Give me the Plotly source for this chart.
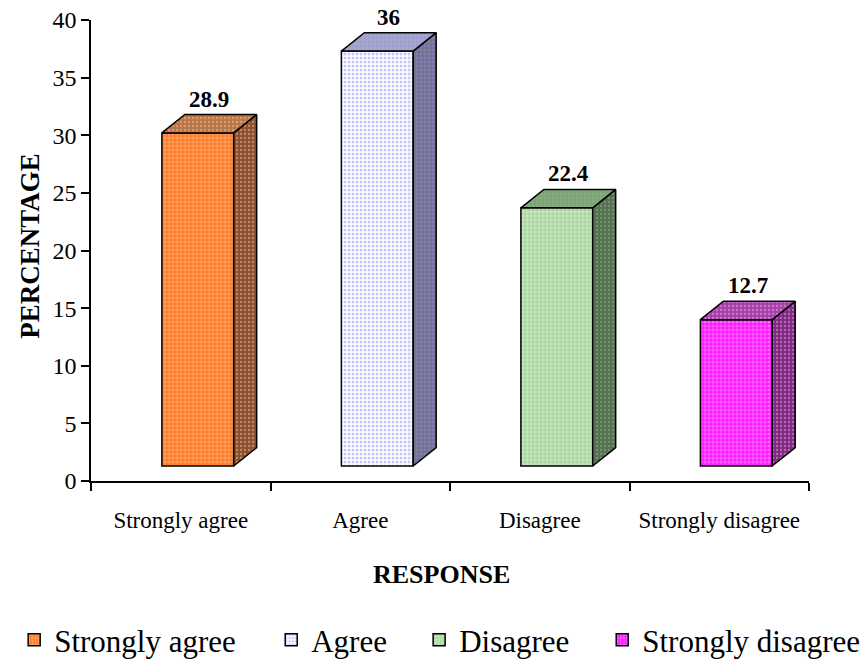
import plotly.graph_objects as go

# Survey responses (percentage of respondents)
categories = ["Strongly agree", "Agree", "Disagree", "Strongly disagree"]
values = [28.9, 36, 22.4, 12.7]
value_labels = ["28.9", "36", "22.4", "12.7"]
y_ticks = [0, 5, 10, 15, 20, 25, 30, 35, 40]

# face colours: (front background, front dots, top, side)
front_bg = ["#FF7F2A", "#FFFFFF", "#C4E4BC", "#FF1CFF"]
front_fg = ["#FFC49A", "#8C8CFF", "#8CC084", "#FFA6FF"]
top_col = ["#B8764A", "#A6A6C8", "#7FA27A", "#A642A6"]
side_col = ["#8A5030", "#74748E", "#566E52", "#7E2A7E"]

FONT = "Liberation Serif"
BAR_W = 0.4      # width of the front face in category units
SHIFT = 0.095    # front face offset from category centre
BASE = 1.3       # floor of the 3-D box above the value axis
DX = 0.128       # depth offset (x, category units)
DY = 1.6         # depth offset (y, value units)

# one legend box per entry so the entries can be spaced freely
legend_ids = ["legend", "legend2", "legend3", "legend4"]
legend_x = [-0.107, 0.251, 0.457, 0.712]

fig = go.Figure()

for i, (cat, v) in enumerate(zip(categories, values)):
    xl = i + SHIFT - BAR_W / 2
    xr = i + SHIFT + BAR_W / 2
    fig.add_trace(go.Bar(
        x=[i + SHIFT], y=[v], base=[BASE], width=[BAR_W], name=cat,
        legend=legend_ids[i],
        marker=dict(
            color=front_bg[i],
            line=dict(color="black", width=1.5),
            pattern=dict(shape=".", bgcolor=front_bg[i], fgcolor=front_fg[i],
                         size=4, solidity=0.45, fillmode="overlay"),
        ),
        hoverinfo="skip",
    ))
    top = BASE + v
    # side face
    fig.add_trace(go.Scatter(
        x=[xr, xr + DX, xr + DX, xr, xr],
        y=[BASE, BASE + DY, top + DY, top, BASE],
        mode="lines", fill="toself", fillcolor=side_col[i],
        fillpattern=dict(shape=".", bgcolor=side_col[i], fgcolor=front_fg[i],
                         size=4, solidity=0.25),
        line=dict(color="black", width=1.5), showlegend=False, hoverinfo="skip",
    ))
    # top face
    fig.add_trace(go.Scatter(
        x=[xl, xl + DX, xr + DX, xr, xl],
        y=[top, top + DY, top + DY, top, top],
        mode="lines", fill="toself", fillcolor=top_col[i],
        fillpattern=dict(shape=".", bgcolor=top_col[i], fgcolor=front_fg[i],
                         size=4, solidity=0.25),
        line=dict(color="black", width=1.5), showlegend=False, hoverinfo="skip",
    ))
    fig.add_annotation(
        x=i + SHIFT + DX / 2, y=top + DY, text="<b>%s</b>" % value_labels[i],
        showarrow=False, yanchor="bottom", yshift=1,
        font=dict(family=FONT, size=23, color="black"),
    )

fig.add_annotation(
    x=0.488, y=-0.167, xref="paper", yref="paper", text="<b>RESPONSE</b>",
    xanchor="center", yanchor="top", showarrow=False,
    font=dict(family=FONT, size=26, color="black"),
)
fig.add_annotation(
    x=-0.085, y=0.51, xref="paper", yref="paper", text="<b>PERCENTAGE</b>",
    xanchor="center", yanchor="middle", textangle=-90, showarrow=False,
    font=dict(family=FONT, size=27, color="black"),
)

legend_style = dict(orientation="h", xanchor="left", y=-0.345, yanchor="middle",
                    font=dict(family=FONT, size=31, color="black"),
                    itemwidth=30, bgcolor="rgba(0,0,0,0)")
legends = {lid: dict(legend_style, x=lx) for lid, lx in zip(legend_ids, legend_x)}

fig.update_layout(
    width=862, height=666,
    margin=dict(l=91, r=53, t=20, b=185, autoexpand=False),
    paper_bgcolor="white", plot_bgcolor="white",
    font=dict(family=FONT, size=22, color="black"),
    barmode="overlay",
    showlegend=True,
    xaxis=dict(
        range=[-0.5, 3.5], tickmode="array", tickvals=[0, 1, 2, 3], ticktext=categories,
        ticks="outside", ticklen=18, tickcolor="rgba(0,0,0,0)",
        showgrid=False, zeroline=False,
        showline=True, linecolor="black", linewidth=1.5,
        tickfont=dict(family=FONT, size=23),
        minor=dict(tickmode="array", tickvals=[-0.5, 0.5, 1.5, 2.5, 3.5],
                   ticks="outside", ticklen=8, tickcolor="black", tickwidth=1.5,
                   showgrid=False),
    ),
    yaxis=dict(
        range=[0, 40], tickmode="array", tickvals=y_ticks,
        ticks="outside", ticklen=8, tickcolor="black", tickwidth=1.5,
        showgrid=False, zeroline=False,
        showline=True, linecolor="black", linewidth=1.5,
        tickfont=dict(family=FONT, size=24),
    ),
    **legends,
)

fig.write_html("out.html")
